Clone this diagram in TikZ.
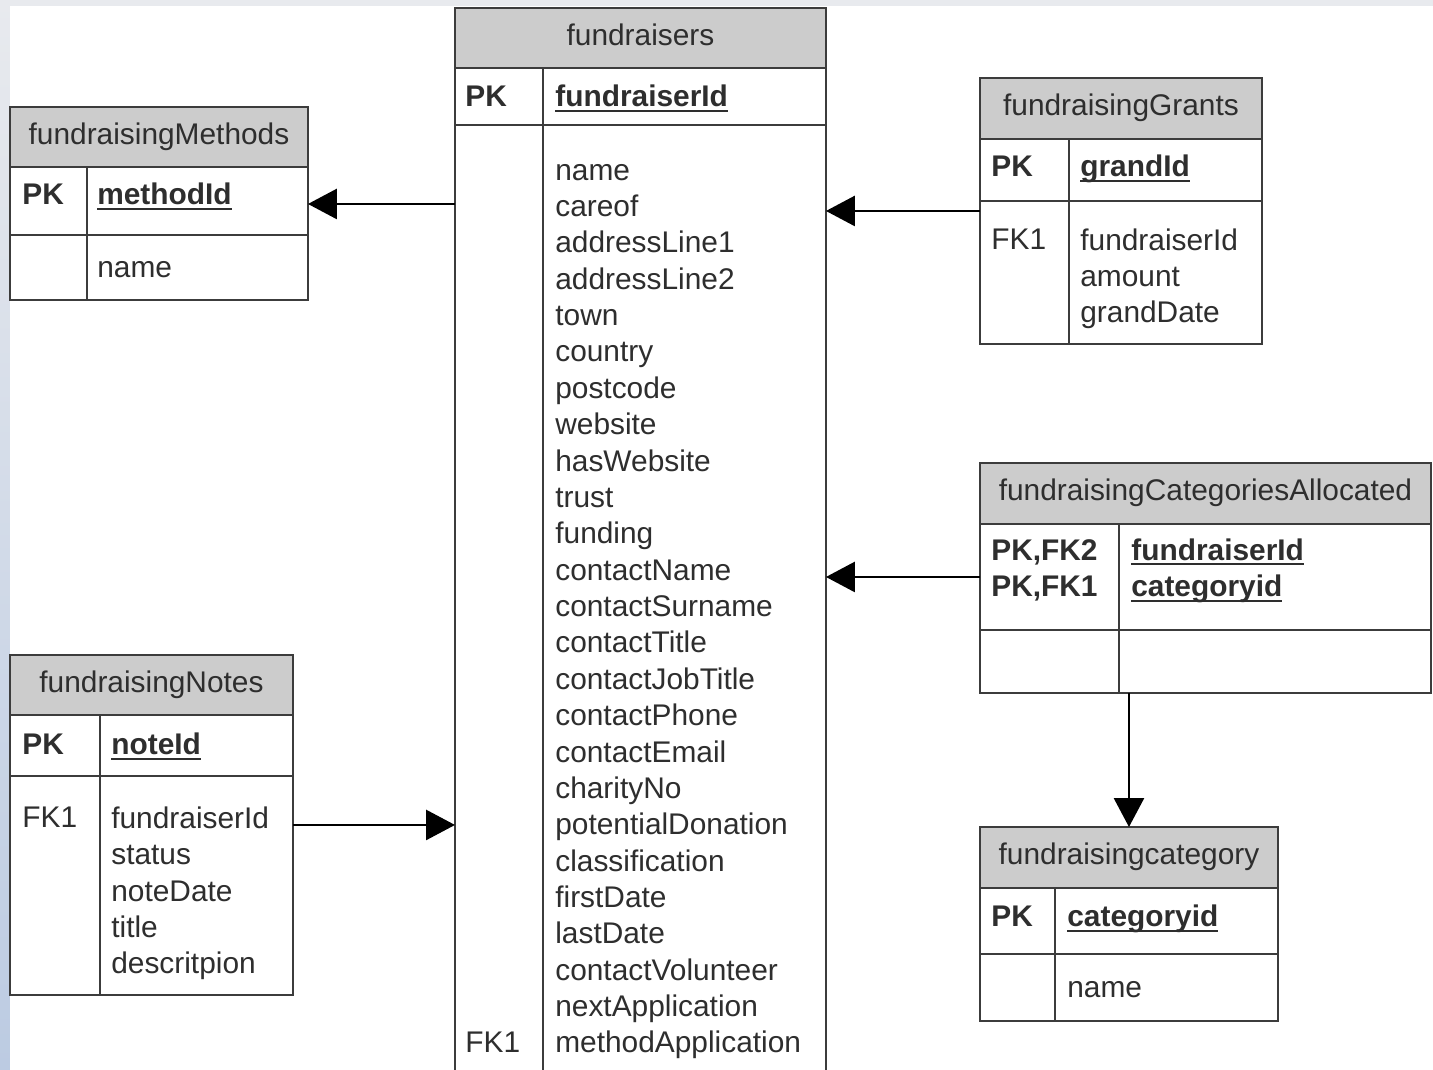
\documentclass[tikz,border=0pt]{standalone}
\usepackage{fontspec}
\setmainfont{Liberation Sans}
\usetikzlibrary{arrows.meta}
\definecolor{headgray}{HTML}{CCCCCC}
\definecolor{gridgray}{HTML}{3C3C3C}
\definecolor{txtgray}{HTML}{2E2E2E}
\definecolor{edgegray}{HTML}{E8EAEE}
\definecolor{edgeblue}{HTML}{BCCBE2}
\newcommand{\pkname}[1]{\setbox0\hbox{#1}\rlap{\rule[-2.6pt]{\wd0}{1.1pt}}\box0}

\begin{document}
\begin{tikzpicture}[x=0.02cm, y=-0.02cm,
    font=\fontsize{17pt}{20.7pt}\selectfont,
    cell/.style={draw=gridgray, line width=1.3pt, inner sep=0pt, outer sep=0pt, anchor=north west},
    head/.style={cell, fill=headgray, text=txtgray, text height=0.45cm, text depth=0.15cm},
    key/.style={anchor=base west, inner sep=0pt, text=txtgray, align=left},
    pkey/.style={key, font=\fontsize{17pt}{20.7pt}\selectfont\bfseries},
    fk/.style={-{Triangle[length=0.58cm, width=0.6cm]}, line width=1.6pt}]
    \useasboundingbox (0,0) rectangle (1433,1070);
    \clip (0,0) rectangle (1433,1070);
    \fill[edgegray] (0,0) rectangle (1433,1070);
    \shade[top color=edgegray, bottom color=edgeblue] (0,0) rectangle (10,1070);
    \fill[white] (10,6) rectangle (1433,1070);
    % fundraisingMethods
    \node[head, minimum width=5.96cm, minimum height=1.2cm] (methHead) at (10,107) {fundraisingMethods};
    \node[cell, minimum width=1.54cm, minimum height=1.36cm] (methPkK) at (methHead.south west) {};
    \node[cell, minimum width=4.42cm, minimum height=1.36cm] (methPkF) at (methPkK.north east) {};
    \node[cell, minimum width=1.54cm, minimum height=1.3cm] (methBodyK) at (methPkK.south west) {};
    \node[cell, minimum width=4.42cm, minimum height=1.3cm] (methBodyF) at (methBodyK.north east) {};
    \node[pkey] (methPk) at ([shift={(12,38)}]methPkK.north west) {PK};
    \node[pkey] (methId) at ([shift={(10,38)}]methPkF.north west) {\pkname{methodId}};
    \node[key] (methFields) at ([shift={(10,43)}]methBodyF.north west) {name};
    % fundraisers (multi-line texts sit on their last line)
    \node[head, minimum width=7.42cm, minimum height=1.2cm] (fundHead) at (455,8) {fundraisers};
    \node[cell, minimum width=1.76cm, minimum height=1.14cm] (fundPkK) at (fundHead.south west) {};
    \node[cell, minimum width=5.66cm, minimum height=1.14cm] (fundPkF) at (fundPkK.north east) {};
    \node[cell, minimum width=1.76cm, minimum height=19.6cm] (fundBodyK) at (fundPkK.south west) {};
    \node[cell, minimum width=5.66cm, minimum height=19.6cm] (fundBodyF) at (fundBodyK.north east) {};
    \node[pkey] (fundPk) at ([shift={(10,39)}]fundPkK.north west) {PK};
    \node[pkey] (fundId) at ([shift={(12,39)}]fundPkF.north west) {\pkname{fundraiserId}};
    \node[key] (fundFk) at ([shift={(10,928)}]fundBodyK.north west) {FK1};
    \node[key] (fundFields) at ([shift={(12,928)}]fundBodyF.north west) {name\\careof\\addressLine1\\addressLine2\\town\\country\\postcode\\website\\hasWebsite\\trust\\funding\\contactName\\contactSurname\\contactTitle\\contactJobTitle\\contactPhone\\contactEmail\\charityNo\\potentialDonation\\classification\\firstDate\\lastDate\\contactVolunteer\\nextApplication\\methodApplication};
    % fundraisingGrants
    \node[head, minimum width=5.64cm, minimum height=1.22cm] (grantHead) at (980,78) {fundraisingGrants};
    \node[cell, minimum width=1.78cm, minimum height=1.24cm] (grantPkK) at (grantHead.south west) {};
    \node[cell, minimum width=3.86cm, minimum height=1.24cm] (grantPkF) at (grantPkK.north east) {};
    \node[cell, minimum width=1.78cm, minimum height=2.86cm] (grantBodyK) at (grantPkK.south west) {};
    \node[cell, minimum width=3.86cm, minimum height=2.86cm] (grantBodyF) at (grantBodyK.north east) {};
    \node[pkey] (grantPk) at ([shift={(11,38)}]grantPkK.north west) {PK};
    \node[pkey] (grantId) at ([shift={(11,38)}]grantPkF.north west) {\pkname{grandId}};
    \node[key] (grantFk) at ([shift={(11,49)}]grantBodyK.north west) {FK1};
    \node[key] (grantFields) at ([shift={(11,122)}]grantBodyF.north west) {fundraiserId\\amount\\grandDate};
    % fundraisingCategoriesAllocated
    \node[head, minimum width=9.02cm, minimum height=1.22cm] (allocHead) at (980,463) {fundraisingCategoriesAllocated};
    \node[cell, minimum width=2.78cm, minimum height=2.12cm] (allocPkK) at (allocHead.south west) {};
    \node[cell, minimum width=6.24cm, minimum height=2.12cm] (allocPkF) at (allocPkK.north east) {};
    \node[cell, minimum width=2.78cm, minimum height=1.26cm] (allocBodyK) at (allocPkK.south west) {};
    \node[cell, minimum width=6.24cm, minimum height=1.26cm] (allocBodyF) at (allocBodyK.north east) {};
    \node[pkey] (allocPk) at ([shift={(11,73)}]allocPkK.north west) {PK,FK2\\PK,FK1};
    \node[pkey] (allocId) at ([shift={(12,73)}]allocPkF.north west) {\pkname{fundraiserId}\\\pkname{categoryid}};
    % fundraisingNotes
    \node[head, minimum width=5.66cm, minimum height=1.2cm] (noteHead) at (10,655) {fundraisingNotes};
    \node[cell, minimum width=1.8cm, minimum height=1.22cm] (notePkK) at (noteHead.south west) {};
    \node[cell, minimum width=3.86cm, minimum height=1.22cm] (notePkF) at (notePkK.north east) {};
    \node[cell, minimum width=1.8cm, minimum height=4.38cm] (noteBodyK) at (notePkK.south west) {};
    \node[cell, minimum width=3.86cm, minimum height=4.38cm] (noteBodyF) at (noteBodyK.north east) {};
    \node[pkey] (notePk) at ([shift={(12,40)}]notePkK.north west) {PK};
    \node[pkey] (noteId) at ([shift={(11,40)}]notePkF.north west) {\pkname{noteId}};
    \node[key] (noteFk) at ([shift={(12,52)}]noteBodyK.north west) {FK1};
    \node[key] (noteFields) at ([shift={(11,198)}]noteBodyF.north west) {fundraiserId\\status\\noteDate\\title\\descritpion};
    % fundraisingcategory
    \node[head, minimum width=5.96cm, minimum height=1.22cm] (catHead) at (980,827) {fundraisingcategory};
    \node[cell, minimum width=1.5cm, minimum height=1.32cm] (catPkK) at (catHead.south west) {};
    \node[cell, minimum width=4.46cm, minimum height=1.32cm] (catPkF) at (catPkK.north east) {};
    \node[cell, minimum width=1.5cm, minimum height=1.34cm] (catBodyK) at (catPkK.south west) {};
    \node[cell, minimum width=4.46cm, minimum height=1.34cm] (catBodyF) at (catBodyK.north east) {};
    \node[pkey] (catPk) at ([shift={(11,39)}]catPkK.north west) {PK};
    \node[pkey] (catId) at ([shift={(12,39)}]catPkF.north west) {\pkname{categoryid}};
    \node[key] (catFields) at ([shift={(12,44)}]catBodyF.north west) {name};
    % relations
    \coordinate (methArr) at ([yshift=-0.06cm]methPkF.east);
    \draw[fk] (methArr -| fundBodyK.west) -- (methArr);
    \coordinate (grantArr) at ([yshift=-0.2cm]grantBodyK.north west);
    \draw[fk] (grantArr) -- (grantArr -| fundBodyF.east);
    \draw[fk] (allocPkK.west) -- (allocPkK.west -| fundBodyF.east);
    \coordinate (noteArr) at ([yshift=-0.98cm]noteBodyF.north east);
    \draw[fk] (noteArr) -- (noteArr -| fundBodyK.west);
    \draw[fk] (catHead.north |- allocBodyF.south) -- (catHead.north);
\end{tikzpicture}
\end{document}
